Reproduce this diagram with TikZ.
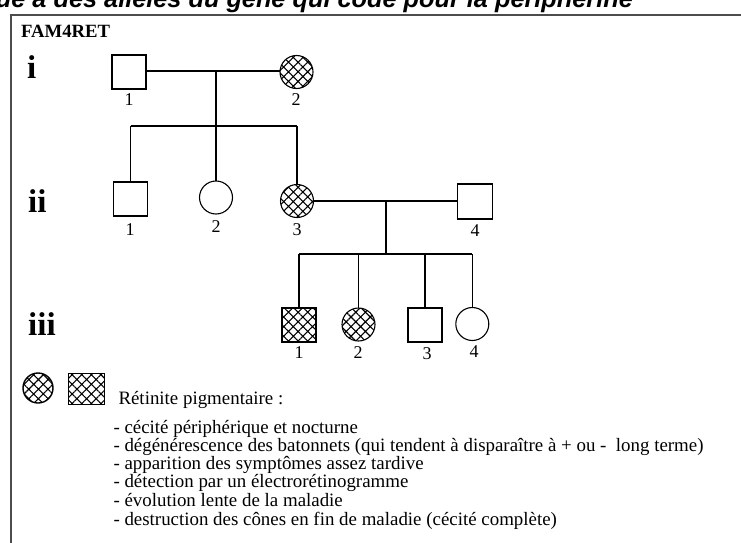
\documentclass[tikz,border=0pt]{standalone}
\usepackage{fontspec}
\setmainfont{Liberation Serif}
\newfontfamily\titlefont{Liberation Sans}
\usetikzlibrary{patterns.meta}

\begin{document}
\begin{tikzpicture}[x=1pt,y=-1pt,
  kin/.style={draw=black, line width=1.1pt, inner sep=0pt, outer sep=0pt},
  male/.style={kin, rectangle, minimum size=34pt},
  female/.style={kin, circle, minimum size=33pt},
  affected/.style={pattern={Hatch[angle=45,distance=6.8pt,line width=1.1pt]}},
  num/.style={font=\fontsize{18}{18}\selectfont, inner sep=0pt},
  gen/.style={font=\fontsize{33}{33}\selectfont\bfseries, inner sep=0pt, anchor=base west},
  link/.style={line width=1.1pt},
  note/.style={font=\fontsize{18.9}{19}\selectfont, inner sep=0pt, anchor=base west},
]
\useasboundingbox (0,0) rectangle (741,543);
\clip (0,0) rectangle (741,543);

% heading and frame
\node[anchor=base east, inner sep=0pt,
      font=\titlefont\fontsize{25.3}{25.3}\selectfont\bfseries\itshape] (title)
  at (633,8) {Rétinite pigmentaire due à des allèles du gène qui code pour la périphérine};
\draw[line width=1.6pt, black!70] (11,560) -- (11,15) -- (760,15);
\node[anchor=base west, inner sep=0pt, font=\fontsize{18.7}{18.7}\selectfont\bfseries] (fam) at (21,37.3) {FAM4RET};

% generation labels
\node[gen] (g1) at (27,78.3) {i};
\node[gen] (g2) at (28,212.7) {ii};
\node[gen] (g3) at (28,335) {iii};

% generation i
\node[male] (i1) at (129,72) {};
\node[female, affected] (i2) at (296.5,72) {};
\node[num] (n-i1) at (129,100) {1};
\node[num] (n-i2) at (296,100) {2};

% generation ii
\node[male] (ii1) at (130.5,199) {};
\node[female] (ii2) at (216,197.5) {};
\node[female, affected] (ii3) at (297,201) {};
\node[male, minimum size=35pt] (ii4) at (475,201.5) {};
\node[num] (n-ii1) at (130,230) {1};
\node[num] (n-ii2) at (216,227) {2};
\node[num] (n-ii3) at (297,230) {3};
\node[num] (n-ii4) at (475,231) {4};

% generation iii
\node[male, affected] (iii1) at (299,325) {};
\node[female, affected] (iii2) at (358.5,324.5) {};
\node[male] (iii3) at (425,325) {};
\node[female] (iii4) at (472.3,324) {};
\node[num] (n-iii1) at (299,353) {1};
\node[num] (n-iii2) at (358,353) {2};
\node[num] (n-iii3) at (427,354) {3};
\node[num] (n-iii4) at (474,352) {4};

% matings and sibships
\coordinate (m1) at (216,71);
\coordinate (s1) at (216,126);
\draw[link] (i1.east |- m1) -- (i2.west |- m1);
\draw[link] (m1) -- (s1);
\draw[link] (ii1.north |- s1) -- (ii3.north |- s1);
\foreach \k in {ii1,ii2,ii3} \draw[link] (\k.north |- s1) -- (\k.north);

\coordinate (m2) at (386,201);
\coordinate (s2) at (386,254);
\draw[link] (ii3.east |- m2) -- (ii4.west |- m2);
\draw[link] (m2) -- (s2);
\draw[link] (iii1.north |- s2) -- (iii4.north |- s2);
\foreach \k in {iii1,iii2,iii3,iii4} \draw[link] (\k.north |- s2) -- (\k.north);

% key
\node[female, minimum size=30pt, line width=1.4pt, affected] (key-f) at (38,388) {};
\node[kin, rectangle, minimum width=36pt, minimum height=31pt, affected] (key-m) at (86.3,388.8) {};
\node[note] (key-t) at (118.3,404.3) {Rétinite pigmentaire :};
\node[note] (l1) at (113.3,433.5) {- cécité périphérique et nocturne};
\node[note] (l2) at (113.3,451.7) {- dégénérescence des batonnets (qui tendent à disparaître à + ou -\ \ long terme)};
\node[note] (l3) at (113.3,469.5) {- apparition des symptômes assez tardive};
\node[note] (l4) at (113.3,487.7) {- détection par un électrorétinogramme};
\node[note] (l5) at (113.3,506.7) {- évolution lente de la maladie};
\node[note] (l6) at (113.3,525) {- destruction des cônes en fin de maladie (cécité complète)};
\end{tikzpicture}
\end{document}
